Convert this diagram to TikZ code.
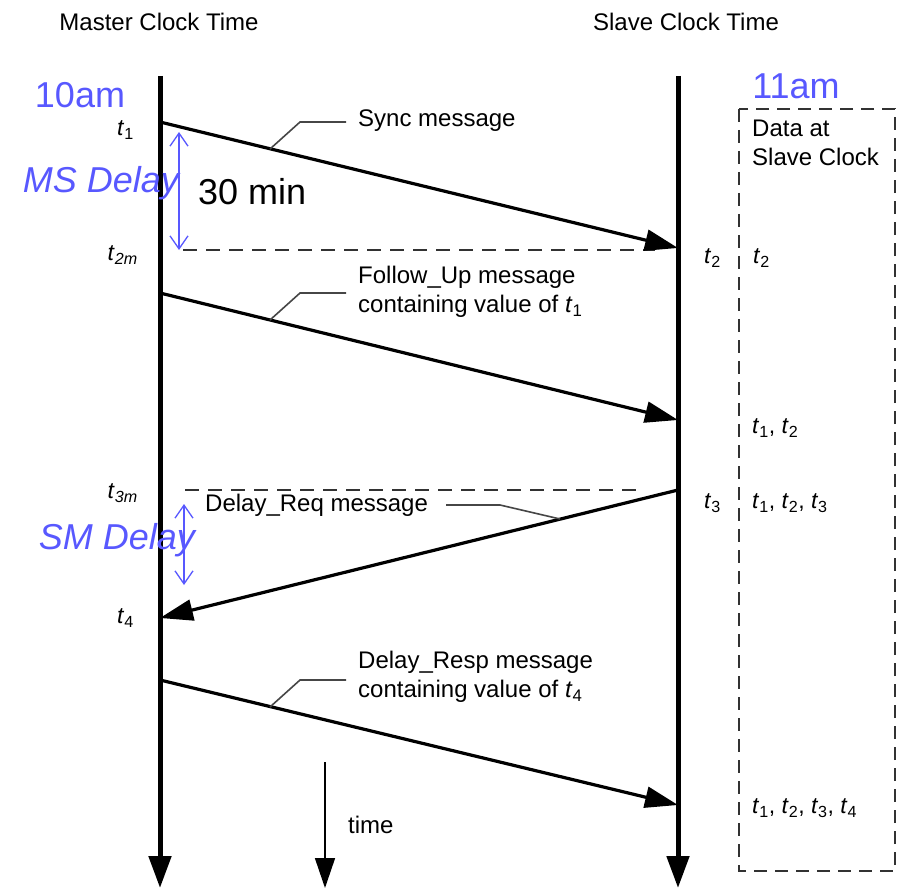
\documentclass[tikz,border=0pt]{standalone}
\usepackage{fontspec}
\setmainfont{Liberation Sans}
\usetikzlibrary{arrows.meta}
\definecolor{dblue}{RGB}{88,88,255}
\definecolor{leadgray}{RGB}{70,70,70}
\definecolor{boxgray}{RGB}{50,50,50}
\newcommand{\tl}[1]{\textit{t}\textsubscript{#1}}
\begin{document}
\begin{tikzpicture}[x=1pt,y=-1pt,
  lbl/.style={font=\fontsize{24}{29}\selectfont, inner sep=0pt, align=left},
  tlab/.style={font=\fontsize{23}{28}\selectfont, inner sep=0pt},
  blu/.style={font=\fontsize{36}{40}\selectfont, text=dblue, inner sep=0pt},
  axisline/.style={line width=5pt, -{Triangle[length=32pt,width=22pt]}},
  msg/.style={line width=3.2pt, -{Triangle[length=33pt,width=21pt]}},
  leader/.style={line width=1.6pt, draw=leadgray},
  hdash/.style={line width=1.4pt, draw=boxgray, dash pattern=on 14pt off 9pt},
  delayarrow/.style={line width=1.3pt, draw=dblue, {Straight Barb[length=13pt,width=18pt]}-{Straight Barb[length=13pt,width=18pt]}}
]
\useasboundingbox (0,0) rectangle (903,888);

% time axes
\coordinate (mtop) at (160,76);
\coordinate (mbot) at (160,888);
\coordinate (stop) at (678,76);
\coordinate (sbot) at (678,888);
\coordinate (ttop) at (325,762);
\coordinate (tbot) at (325,888);
\draw[axisline] (mtop) -- (mbot);
\draw[axisline] (stop) -- (sbot);
\draw[line width=1.6pt, -{Triangle[length=30pt,width=20pt]}] (ttop) -- (tbot);
\node[lbl, anchor=west] (time) at (348,825) {time};

% headers
\node[lbl] (mhead) at (159,22) {Master Clock Time};
\node[lbl] (shead) at (686,22) {Slave Clock Time};

% data box
\coordinate (boxtl) at (739,109);
\coordinate (boxbr) at (895,871);
\draw[line width=1.5pt, draw=boxgray, dash pattern=on 13pt off 8pt] (boxtl) rectangle (boxbr);
\node[lbl, anchor=north west] (data) at (752,120) {Data at\\Slave Clock};

% message end points
\coordinate (a1) at (160,122);
\coordinate (b1) at (678,248);
\coordinate (a2) at (160,293);
\coordinate (b2) at (678,420);
\coordinate (b3) at (678,490);
\coordinate (a3) at (160,618);
\coordinate (a4) at (160,680);
\coordinate (b4) at (678,805);

% dashed reference lines
\coordinate (d1s) at (183,250);
\coordinate (d1e) at (655,250);
\coordinate (d2s) at (185,490);
\coordinate (d2e) at (642,490);
\draw[hdash] (d1s) -- (d1e);
\draw[hdash] (d2s) -- (d2e);

% messages
\draw[msg] (a1) -- (b1);
\draw[msg] (a2) -- (b2);
\draw[msg] (b3) -- (a3);
\draw[msg] (a4) -- (b4);

% labels of messages
\node[lbl, anchor=west] (sync) at (358,121) {Sync message};
\coordinate (l1a) at (270,149);
\coordinate (l1b) at (300,122);
\coordinate (l1c) at (346,122);
\draw[leader] (l1a) -- (l1b) -- (l1c);

\node[lbl, anchor=west] (fup) at (358,292) {Follow\_Up message\\containing value of \tl{1}};
\coordinate (l2a) at (270,320);
\coordinate (l2b) at (300,293);
\coordinate (l2c) at (346,293);
\draw[leader] (l2a) -- (l2b) -- (l2c);

\node[lbl, anchor=west] (dreq) at (205,505) {Delay\_Req message};
\coordinate (l3a) at (446,505);
\coordinate (l3b) at (500,505);
\coordinate (l3c) at (560,519);
\draw[leader] (l3a) -- (l3b) -- (l3c);

\node[lbl, anchor=west] (dresp) at (358,677) {Delay\_Resp message\\containing value of \tl{4}};
\coordinate (l4a) at (270,707);
\coordinate (l4b) at (300,680);
\coordinate (l4c) at (346,680);
\draw[leader] (l4a) -- (l4b) -- (l4c);

% time stamps
\node[tlab, anchor=east] (t1) at (134,130) {\tl{1}};
\node[tlab, anchor=east] (t2m) at (138,255) {\tl{\textit{2m}}};
\node[tlab, anchor=east] (t3m) at (138,493) {\tl{\textit{3m}}};
\node[tlab, anchor=east] (t4) at (134,618) {\tl{4}};
\node[tlab, anchor=west] (t2) at (704,258) {\tl{2}};
\node[tlab, anchor=west] (t3) at (704,503) {\tl{3}};
\node[tlab, anchor=west] (d2) at (753,258) {\tl{2}};
\node[tlab, anchor=west] (d12) at (752,428) {\tl{1}, \tl{2}};
\node[tlab, anchor=west] (d123) at (752,503) {\tl{1}, \tl{2}, \tl{3}};
\node[tlab, anchor=west] (d1234) at (752,808) {\tl{1}, \tl{2}, \tl{3}, \tl{4}};

% delays
\coordinate (ms1) at (179,132);
\coordinate (ms2) at (179,250);
\draw[delayarrow] (ms1) -- (ms2);
\coordinate (sm1) at (184,504);
\coordinate (sm2) at (184,585);
\draw[delayarrow] (sm1) -- (sm2);

\node[blu] (ten) at (80,95) {10am};
\node[blu] (eleven) at (796,86) {11am};
\node[blu, font=\fontsize{36}{40}\selectfont\itshape] (msd) at (101,183) {MS Delay};
\node[blu, font=\fontsize{36}{40}\selectfont\itshape] (smd) at (117,540) {SM Delay};
\node[font=\fontsize{36}{40}\selectfont, inner sep=0pt, anchor=west] (thirty) at (198,192) {30 min};
\end{tikzpicture}
\end{document}
